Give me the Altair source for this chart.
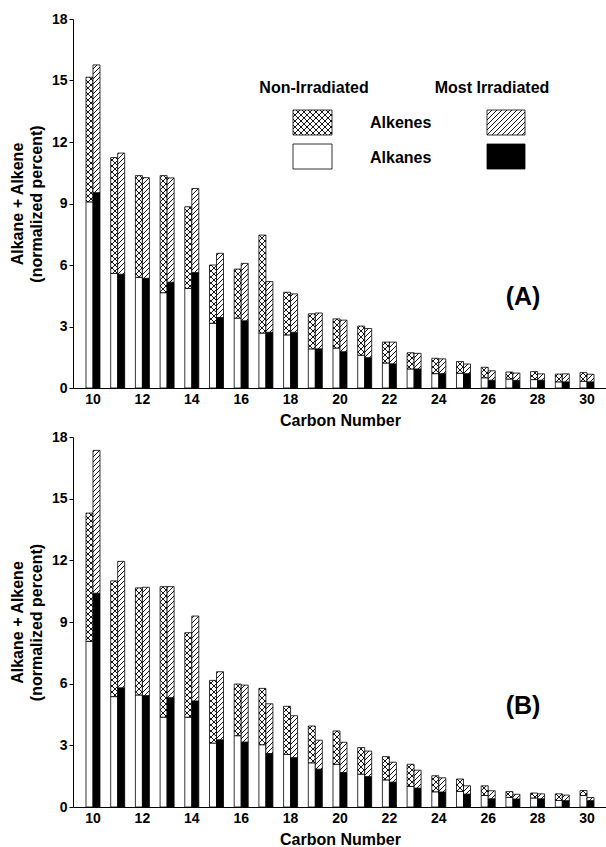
import altair as alt
import pandas as pd
import jinja2

# ---------------- data ----------------
carbon = list(range(10, 31))

# Panel (A)
A_non_alkane = [9.08, 5.59, 5.40, 4.65, 4.86, 3.16, 3.41, 2.68, 2.59, 1.91, 1.95,
                1.60, 1.22, 0.93, 0.70, 0.72, 0.50, 0.44, 0.41, 0.30, 0.33]
A_non_total = [15.16, 11.24, 10.36, 10.36, 8.84, 6.00, 5.80, 7.46, 4.67, 3.62, 3.37,
               3.02, 2.24, 1.72, 1.45, 1.29, 1.01, 0.78, 0.80, 0.68, 0.75]
A_irr_alkane = [9.53, 5.55, 5.35, 5.16, 5.63, 3.44, 3.28, 2.72, 2.72, 1.91, 1.77,
                1.48, 1.18, 0.93, 0.70, 0.70, 0.38, 0.37, 0.38, 0.30, 0.30]
A_irr_total = [15.76, 11.46, 10.26, 10.25, 9.73, 6.57, 6.08, 5.19, 4.59, 3.66, 3.31,
               2.90, 2.24, 1.69, 1.42, 1.17, 0.84, 0.73, 0.69, 0.69, 0.67]

# Panel (B)
B_non_alkane = [8.06, 5.37, 5.45, 4.37, 4.37, 3.11, 3.47, 3.03, 2.56, 2.15, 2.08,
                1.60, 1.32, 1.00, 0.74, 0.76, 0.56, 0.47, 0.44, 0.32, 0.56]
B_non_total = [14.30, 11.00, 10.66, 10.72, 8.48, 6.16, 5.98, 5.77, 4.90, 3.94, 3.70,
               2.89, 2.45, 2.08, 1.52, 1.36, 1.03, 0.75, 0.68, 0.64, 0.80]
B_irr_alkane = [10.40, 5.80, 5.42, 5.32, 5.16, 3.27, 3.16, 2.60, 2.40, 1.84, 1.68,
                1.48, 1.21, 0.92, 0.73, 0.63, 0.40, 0.39, 0.40, 0.31, 0.31]
B_irr_total = [17.35, 11.95, 10.69, 10.72, 9.29, 6.58, 5.93, 5.02, 4.44, 3.25, 3.15,
               2.72, 2.18, 1.79, 1.42, 1.03, 0.79, 0.62, 0.64, 0.58, 0.46]

y_ticks = [0, 3, 6, 9, 12, 15, 18]
x_labels = [10, 12, 14, 16, 18, 20, 22, 24, 26, 28, 30]

FONT = "Liberation Sans"
XHATCH = "url(#xhatch)"
HATCH = "url(#hatch)"


def long_table(non_alk, non_tot, irr_alk, irr_tot):
    rows = []
    for i, c in enumerate(carbon):
        rows.append(dict(c=c, status="non", kind="non_alkane", lo=0.0, hi=non_alk[i]))
        rows.append(dict(c=c, status="non", kind="non_alkene", lo=non_alk[i], hi=non_tot[i]))
        rows.append(dict(c=c, status="irr", kind="irr_alkane", lo=0.0, hi=irr_alk[i]))
        rows.append(dict(c=c, status="irr", kind="irr_alkene", lo=irr_alk[i], hi=irr_tot[i]))
    return pd.DataFrame(rows)


one_row = alt.Data(values=[{"k": 1}])


def panel(df, tag, height, tag_y, with_legend):
    bars = alt.Chart(df).mark_bar(stroke="black", strokeWidth=0.8).encode(
        x=alt.X("c:O",
                scale=alt.Scale(paddingInner=0.433, paddingOuter=0.526),
                axis=alt.Axis(values=x_labels, labelAngle=0, ticks=False, tickSize=0,
                              labelPadding=4, title="Carbon Number", titlePadding=6,
                              domainColor="black", domainWidth=1.2)),
        xOffset=alt.XOffset("status:N", scale=alt.Scale(domain=["non", "irr"])),
        y=alt.Y("lo:Q",
                scale=alt.Scale(domain=[0, 18], nice=False),
                axis=alt.Axis(values=y_ticks, tickSize=4, labelPadding=2, grid=False,
                              title=["Alkane + Alkene", "(normalized percent)"],
                              titleLineHeight=19, titlePadding=7,
                              domainColor="black", tickColor="black")),
        y2="hi:Q",
        fill=alt.Fill("kind:N",
                      scale=alt.Scale(domain=["non_alkane", "non_alkene", "irr_alkane", "irr_alkene"],
                                      range=["white", XHATCH, "black", HATCH]),
                      legend=None),
    ).properties(width=534, height=height)

    layers = [bars]
    layers.append(
        alt.Chart(one_row).mark_text(text=tag, fontSize=25, fontWeight="bold", font=FONT,
                                     align="center", baseline="middle")
        .encode(x=alt.value(450), y=alt.value(tag_y))
    )
    if with_legend:
        head = dict(fontSize=16, fontWeight="bold", font=FONT, baseline="middle")
        layers += [
            alt.Chart(one_row).mark_text(text="Non-Irradiated", align="center", **head)
            .encode(x=alt.value(241), y=alt.value(69)),
            alt.Chart(one_row).mark_text(text="Most Irradiated", align="center", **head)
            .encode(x=alt.value(419), y=alt.value(69)),
            alt.Chart(one_row).mark_text(text="Alkenes", align="left", **head)
            .encode(x=alt.value(297), y=alt.value(104)),
            alt.Chart(one_row).mark_text(text="Alkanes", align="left", **head)
            .encode(x=alt.value(297), y=alt.value(139)),
            alt.Chart(one_row).mark_rect(fill=XHATCH, stroke="black", strokeWidth=0.8)
            .encode(x=alt.value(220), x2=alt.value(259), y=alt.value(91), y2=alt.value(116)),
            alt.Chart(one_row).mark_rect(fill="white", stroke="black", strokeWidth=0.8)
            .encode(x=alt.value(220), x2=alt.value(259), y=alt.value(125), y2=alt.value(150)),
            alt.Chart(one_row).mark_rect(fill=HATCH, stroke="black", strokeWidth=0.8)
            .encode(x=alt.value(414), x2=alt.value(452), y=alt.value(91), y2=alt.value(116)),
            alt.Chart(one_row).mark_rect(fill="black", stroke="black", strokeWidth=0.8)
            .encode(x=alt.value(414), x2=alt.value(452), y=alt.value(125), y2=alt.value(150)),
        ]
    return alt.layer(*layers)


dfA = long_table(A_non_alkane, A_non_total, A_irr_alkane, A_irr_total)
dfB = long_table(B_non_alkane, B_non_total, B_irr_alkane, B_irr_total)

chart = alt.vconcat(
    panel(dfA, "(A)", 369, 278, True),
    panel(dfB, "(B)", 370, 269, False),
    spacing=2,
).properties(
    padding={"left": 9, "top": 12, "right": 0, "bottom": 0}
).configure(
    font=FONT, background="white"
).configure_view(
    stroke=None
).configure_axis(
    labelFont=FONT, labelFontSize=14, labelFontWeight="bold", labelColor="black",
    titleFont=FONT, titleFontSize=16, titleFontWeight="bold", titleColor="black",
)

TEMPLATE = jinja2.Template("""<!DOCTYPE html>
<html>
<head>
<meta charset="utf-8">
<style>body { margin: 0; }</style>
<script type="text/javascript" src="{{ base_url }}/vega@{{ vega_version }}"></script>
<script type="text/javascript" src="{{ base_url }}/vega-lite@{{ vegalite_version }}"></script>
<script type="text/javascript" src="{{ base_url }}/vega-embed@{{ vegaembed_version }}"></script>
</head>
<body>
<svg width="0" height="0" style="position:absolute">
  <defs>
    <pattern id="xhatch" patternUnits="userSpaceOnUse" width="6" height="6">
      <rect width="6" height="6" fill="white"/>
      <path d="M0,0 L6,6 M6,0 L0,6" stroke="black" stroke-width="0.9"/>
    </pattern>
    <pattern id="hatch" patternUnits="userSpaceOnUse" width="5" height="5">
      <rect width="5" height="5" fill="white"/>
      <path d="M-1,1 L1,-1 M0,5 L5,0 M4,6 L6,4" stroke="black" stroke-width="0.9"/>
    </pattern>
  </defs>
</svg>
<div id="{{ output_div }}"></div>
<script>
  var spec = {{ spec }};
  var embedOpt = {{ embed_options }};
  vegaEmbed("#{{ output_div }}", spec, embedOpt).catch(function (error) {
    document.getElementById("{{ output_div }}").innerHTML =
      '<div style="color:red;">' + error.message + '</div>';
  });
</script>
</body>
</html>
""")

chart.save("out.html", embed_options={"renderer": "svg", "actions": False}, template=TEMPLATE)
